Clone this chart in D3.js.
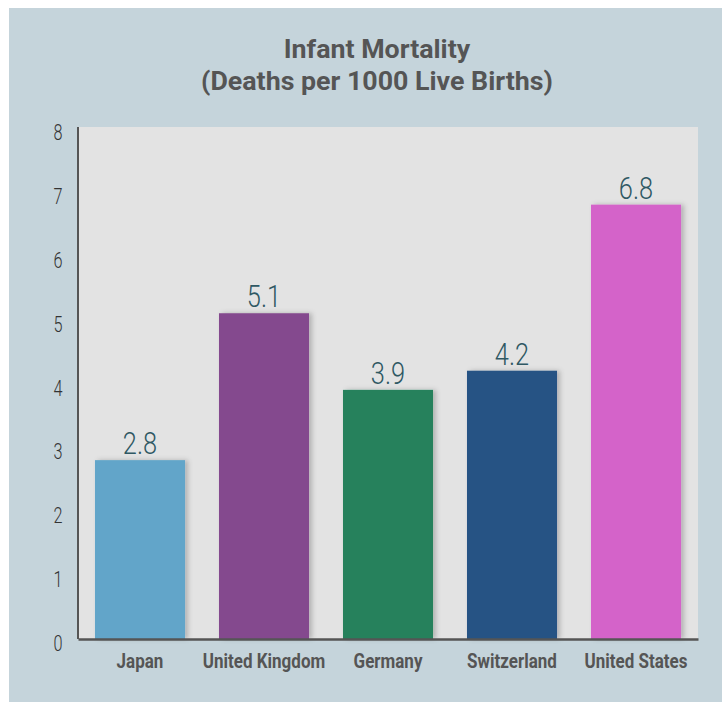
<!DOCTYPE html>
<html><head><meta charset="utf-8">
<script src="https://cdn.jsdelivr.net/npm/d3@7/dist/d3.min.js"></script>
<style>
html,body{margin:0;padding:0;background:#fff;}
svg{display:block;}
</style></head>
<body><svg id="chart" width="722" height="704"></svg>
<script>
const categories = ["Japan","United Kingdom","Germany","Switzerland","United States"];
const values = [2.8, 5.1, 3.9, 4.2, 6.8];
const colors = ["#62a5c9","#844a8e","#26815b","#265384","#d464c9"];
const yTicks = [0,1,2,3,4,5,6,7,8];
const titleLines = ["Infant Mortality","(Deaths per 1000 Live Births)"];

const font = "Roboto,'DejaVu Sans',sans-serif";
const svg = d3.select("#chart");
const defs = svg.append("defs");
const f = defs.append("filter").attr("id","shadow").attr("x","-10%").attr("y","-10%").attr("width","130%").attr("height","120%");
f.append("feDropShadow").attr("dx",3).attr("dy",0).attr("stdDeviation",2.5).attr("flood-color","#000").attr("flood-opacity",0.22);

// horizontally condense text around its anchor x
function condense(sel, k){
  sel.each(function(){
    const t = d3.select(this);
    const x0 = +t.attr("x") || 0;
    t.attr("transform",`translate(${x0},0) scale(${k},1) translate(${-x0},0)`);
  });
}

// panel
svg.append("rect").attr("x",9).attr("y",8).attr("width",713).attr("height",694).attr("fill","#c5d4db");

const pLeft=78, pRight=698, pTop=127, pBottom=639;
svg.append("rect").attr("x",pLeft).attr("y",pTop).attr("width",pRight-pLeft).attr("height",pBottom-pTop).attr("fill","#e3e3e3");

const x = d3.scaleBand().domain(categories).range([pLeft,pRight]).paddingInner(0.274).paddingOuter(0.137);
const y = d3.scaleLinear().domain([0,8]).range([pBottom,pTop+1]);

// title
const title = svg.append("g").selectAll("text").data(titleLines).join("text")
  .attr("x",377).attr("y",(d,i)=>58+i*32)
  .attr("text-anchor","middle")
  .attr("font-family",font).attr("font-weight","bold").attr("font-size",26)
  .attr("fill","#555").text(d=>d);
condense(title, 1.03);

// bars
svg.append("g").selectAll("rect").data(values).join("rect")
  .attr("x",(d,i)=>x(categories[i]))
  .attr("y",d=>y(d))
  .attr("width",x.bandwidth())
  .attr("height",d=>y(0)-y(d))
  .attr("fill",(d,i)=>colors[i])
  .attr("filter","url(#shadow)");

// value labels
const vl = svg.append("g").selectAll("text").data(values).join("text")
  .attr("x",(d,i)=>x(categories[i])+x.bandwidth()/2)
  .attr("y",d=>y(d)-6)
  .attr("text-anchor","middle")
  .attr("font-family",font).attr("font-weight",300).attr("font-size",31)
  .attr("fill","#2f5863").text(d=>d.toFixed(1));
condense(vl, 0.82);

// y axis
const yAxis = svg.append("g").attr("transform",`translate(${pLeft},0)`)
  .call(d3.axisLeft(y).tickValues(yTicks).tickSize(0).tickPadding(14).tickFormat(d3.format("d")));
yAxis.select(".domain").attr("stroke","#555").attr("stroke-width",2).attr("d",`M0,${pTop}V${pBottom}`);
const yl = yAxis.selectAll("text").attr("font-family",font).attr("font-weight",300).attr("font-size",22).attr("fill","#333")
  .attr("dy",null).attr("y",11.5).attr("text-anchor","middle").attr("x",-20);
condense(yl, 0.74);

// x axis
const xAxis = svg.append("g").attr("transform",`translate(0,${pBottom})`)
  .call(d3.axisBottom(x).tickSize(0).tickPadding(14));
xAxis.select(".domain").attr("stroke","#555").attr("stroke-width",2.5);
const xl = xAxis.selectAll("text").attr("font-family",font).attr("font-weight","bold").attr("font-size",21).attr("fill","#555")
  .attr("dy",null).attr("y",29);
condense(xl, 0.81);
</script>
</body></html>
